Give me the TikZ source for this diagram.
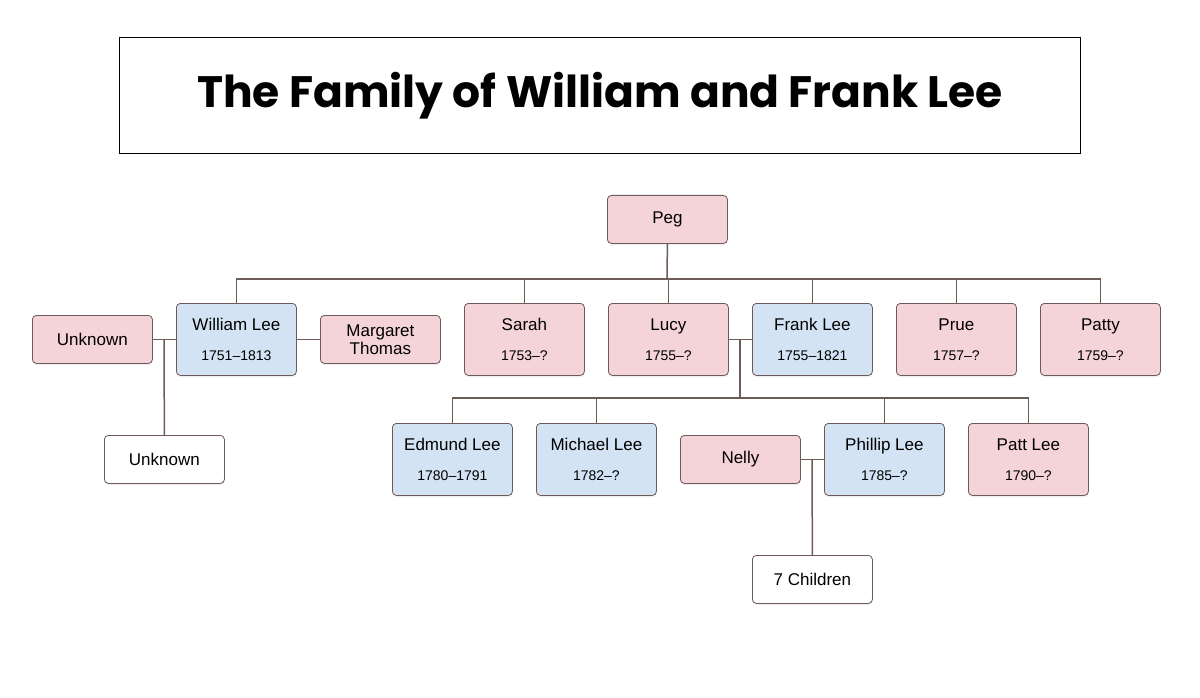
\documentclass[tikz,border=0pt]{standalone}
\usepackage{fontspec}
\setmainfont{Liberation Sans}
\newfontfamily\titlefont{Poppins}
\usetikzlibrary{shadows}
\definecolor{pinkb}{HTML}{F4D3D9}
\definecolor{blueb}{HTML}{D3E3F3}
\definecolor{edge}{HTML}{6D5B57}
\tikzset{
 person/.style={draw=edge, line width=0.8pt, rounded corners=4pt, minimum width=120pt, anchor=north west, inner sep=0pt, align=center, font=\fontsize{17}{19}\selectfont,
   drop shadow={shadow xshift=0pt, shadow yshift=-2pt, opacity=0.12}},
 tall/.style={person, minimum height=72pt},
 short/.style={person, minimum height=48pt},
 pinkp/.style={fill=pinkb}, bluep/.style={fill=blueb}, whitep/.style={fill=white},
 conn/.style={draw=edge, line width=1.5pt}
}
\newcommand{\twol}[2]{#1\\[11pt]{\fontsize{14}{16}\selectfont #2}}
\begin{document}
\begin{tikzpicture}[x=1pt,y=-1pt]
\useasboundingbox (0,0) rectangle (1200,698);
\node[draw=black, line width=1.2pt, minimum width=961pt, minimum height=116pt, anchor=north west, inner sep=0pt] (title) at (119,37)
 {\titlefont\fontsize{44}{50}\selectfont\bfseries The Family of William and Frank Lee};
% connectors first
\coordinate (pegb) at (667,243);
\coordinate (bar1) at (667,279);
\node[short,pinkp] (peg) at (607,195) {Peg};
\node[tall,bluep] (will) at (176,303) {\twol{William Lee}{1751--1813}};
\node[short,pinkp] (unk) at (32,315) {Unknown};
\node[short,pinkp] (marg) at (320,315) {Margaret\\[-1pt]Thomas};
\node[tall,pinkp] (sarah) at (464,303) {\twol{Sarah}{1753--?}};
\node[tall,pinkp] (lucy) at (608,303) {\twol{Lucy}{1755--?}};
\node[tall,bluep] (frank) at (752,303) {\twol{Frank Lee}{1755--1821}};
\node[tall,pinkp] (prue) at (896,303) {\twol{Prue}{1757--?}};
\node[tall,pinkp] (patty) at (1040,303) {\twol{Patty}{1759--?}};
\node[short,whitep] (unk2) at (104,435) {Unknown};
\node[tall,bluep] (edm) at (392,423) {\twol{Edmund Lee}{1780--1791}};
\node[tall,bluep] (mich) at (536,423) {\twol{Michael Lee}{1782--?}};
\node[short,pinkp] (nelly) at (680,435) {Nelly};
\node[tall,bluep] (phil) at (824,423) {\twol{Phillip Lee}{1785--?}};
\node[tall,pinkp] (patt) at (968,423) {\twol{Patt Lee}{1790--?}};
\node[short,whitep] (seven) at (752,555) {7 Children};
% lines
\begin{scope}[on background layer/.style={}]
\end{scope}
\draw[conn] (peg.south) -- (bar1);
\draw[conn] (will.north) |- (bar1) -| (patty.north);
\draw[conn] (sarah.north) -- ++(0,-24);
\draw[conn] (lucy.north) -- ++(0,-24);
\draw[conn] (frank.north) -- ++(0,-24);
\draw[conn] (prue.north) -- ++(0,-24);
\draw[conn] (unk.east) -- (unk.east -| will.west);
\draw[conn] (will.east) -- (marg.west);
\coordinate (uj) at (164,339);
\draw[conn] (uj) -- (unk2.north);
\draw[conn] (lucy.east) -- (frank.west);
\coordinate (lf) at (740,339);
\coordinate (bar2) at (740,398);
\draw[conn] (lf) -- (bar2);
\draw[conn] (edm.north) |- (bar2) -| (patt.north);
\draw[conn] (mich.north) -- ++(0,-25);
\draw[conn] (phil.north) -- ++(0,-25);
\draw[conn] (nelly.east) -- (nelly.east -| phil.west);
\coordinate (np) at (812,459);
\draw[conn] (np) -- (seven.north);
\end{tikzpicture}
\end{document}
